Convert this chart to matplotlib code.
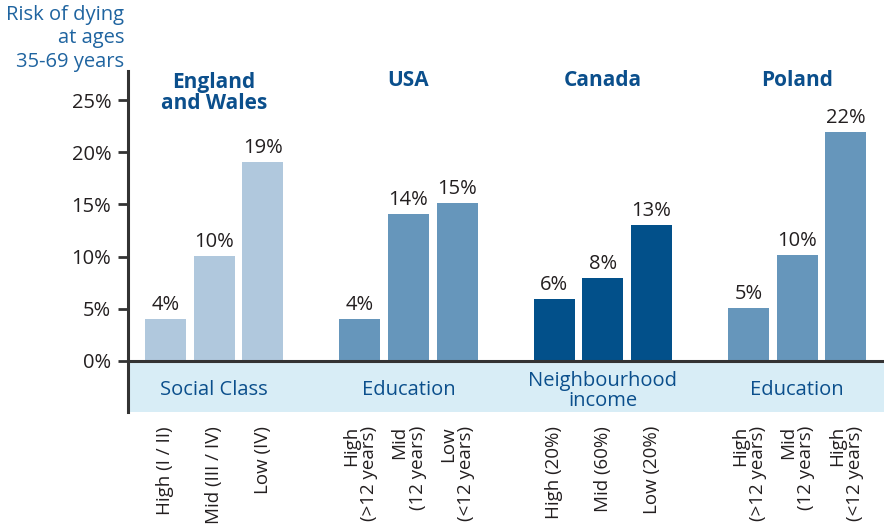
import matplotlib
matplotlib.use("Agg")
import matplotlib.pyplot as plt

plt.rcParams['font.family'] = ['Open Sans', 'DejaVu Sans']

countries = ["England\nand Wales", "USA", "Canada", "Poland"]
measures = ["Social Class", "Education", "Neighbourhood\nincome", "Education"]
tick_labels = [
    ["High (I / II)", "Mid (III / IV)", "Low (IV)"],
    ["High\n(>12 years)", "Mid\n(12 years)", "Low\n(<12 years)"],
    ["High (20%)", "Mid (60%)", "Low (20%)"],
    ["High\n(>12 years)", "Mid\n(12 years)", "High\n(<12 years)"],
]
values = [
    [4, 10, 19],
    [4, 14, 15],
    [6, 8, 13],
    [5, 10, 22],
]
bar_heights = [
    [4.0, 10.05, 19.05],
    [4.0, 14.1, 15.15],
    [5.95, 7.95, 13.05],
    [5.1, 10.15, 21.95],
]
colors = ["#b0c8dd", "#6696bb", "#02508a", "#6696bb"]

W, H = 884, 531
fig = plt.figure(figsize=(W / 100, H / 100), dpi=100)
ax_left, ax_right = 128 / W, 1.0
ax_top, ax_bot = 71, 412
ax = fig.add_axes([ax_left, 1 - ax_bot / H, ax_right - ax_left, (ax_bot - ax_top) / H])

px_per_unit = (361 - 100) / 25.0
ymin = -(ax_bot - 361) / px_per_unit
ymax = (361 - ax_top) / px_per_unit
ax.set_ylim(ymin, ymax)
step = 48.6
first_center = 165.5
xmin = (128 - first_center) / step
xmax = (884 - first_center) / step
ax.set_xlim(xmin, xmax)

text_dark = "#231f20"
title_blue = "#0b4f8c"
band_blue = "#d8edf6"

ax.axhspan(ymin, 0, color=band_blue, zorder=0, lw=0)
ax.axhline(0, color="#333333", lw=2.2, zorder=3)

for g in range(4):
    xs = [g * 4 + i for i in range(3)]
    ax.bar(xs, bar_heights[g], width=0.845, color=colors[g], zorder=2)
    for x, h, v in zip(xs, bar_heights[g], values[g]):
        ax.text(x, h + 9 / px_per_unit, f"{v}%", ha="center", va="baseline",
                fontsize=14.5, color=text_dark)
    center = g * 4 + 1
    ty = 81 if "\n" not in countries[g] else 93
    ax.text(center, (361 - ty) / px_per_unit, countries[g], ha="center",
            va="center", fontsize=15, fontweight="bold", color=title_blue,
            linespacing=0.98)
    if "\n" in measures[g]:
        ax.text(center, -(391 - 361) / px_per_unit, measures[g], ha="center",
                va="center", fontsize=14.5, color=title_blue, linespacing=0.95)
    else:
        ax.text(center, -(390 - 361) / px_per_unit, measures[g], ha="center",
                va="center", fontsize=14.5, color=title_blue)
    for i, lab in enumerate(tick_labels[g]):
        x = g * 4 + i
        ax.annotate(lab, xy=(x, ymin), xycoords="data", xytext=(0, -10),
                    textcoords="offset points", rotation=90, ha="center",
                    va="top", multialignment="right", fontsize=13.5,
                    color=text_dark, linespacing=1.0, annotation_clip=False)

ax.set_yticks([0, 5, 10, 15, 20, 25])
ax.set_yticklabels(["0%", "5%", "10%", "15%", "20%", "25%"])
ax.tick_params(axis="y", direction="out", length=7, width=2, color="#333333",
               labelsize=14.5, labelcolor=text_dark, pad=5)
ax.set_xticks([])
for s in ["top", "right", "bottom"]:
    ax.spines[s].set_visible(False)
ax.spines["left"].set_linewidth(2.2)
ax.spines["left"].set_color("#333333")

fig.text(124 / W, 1 - 5 / H, "Risk of dying\nat ages\n35-69 years",
         ha="right", va="top", fontsize=14.5, color="#1f64a0",
         linespacing=1.22)

fig.savefig("out.png", dpi=100)
